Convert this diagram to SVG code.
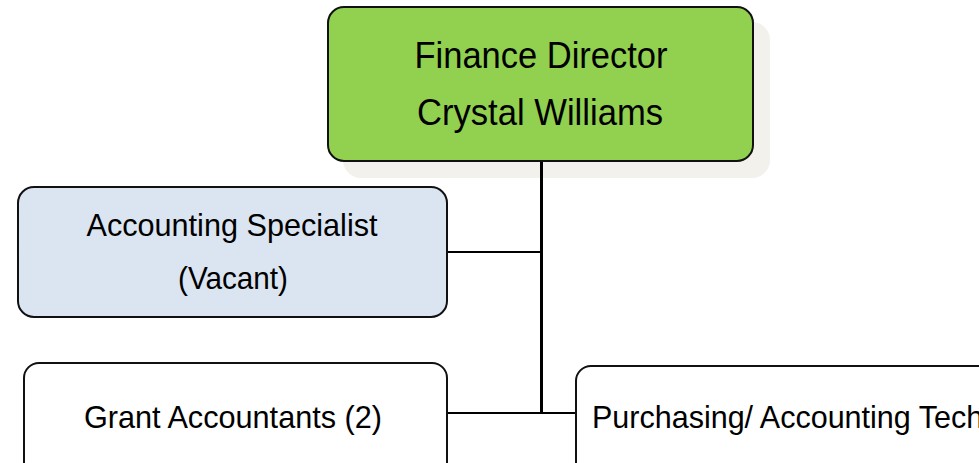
<svg xmlns="http://www.w3.org/2000/svg" width="979" height="463" viewBox="0 0 979 463">
<style>
.box{stroke:#111;stroke-width:2}
.t{font-family:"Liberation Sans",Arial,sans-serif;fill:#000;text-anchor:middle}
.big{font-size:36px}
.mid{font-size:30.5px}
.ln{stroke:#000;fill:none}
</style>
<rect width="979" height="463" fill="#fff"/>
<g id="finance-director">
<rect x="343" y="22" width="427" height="156" rx="18" fill="#f2f1ec"/>
<rect class="box" x="328" y="7" width="425" height="154" rx="16" fill="#92d050"/>
<text class="t big" x="541" y="68" textLength="253" lengthAdjust="spacingAndGlyphs">Finance Director</text>
<text class="t big" x="540" y="125" textLength="246" lengthAdjust="spacingAndGlyphs">Crystal Williams</text>
</g>
<g id="accounting-specialist">
<rect class="box" x="18" y="187" width="429" height="130" rx="16" fill="#dbe5f1"/>
<text class="t mid" x="232" y="236" textLength="291" lengthAdjust="spacingAndGlyphs">Accounting Specialist</text>
<text class="t mid" x="233" y="289" textLength="110" lengthAdjust="spacingAndGlyphs">(Vacant)</text>
</g>
<g id="grant-accountants">
<rect class="box" x="24" y="363" width="423" height="120" rx="15" fill="#fff"/>
<text class="t mid" x="233" y="428" textLength="298" lengthAdjust="spacingAndGlyphs">Grant Accountants (2)</text>
</g>
<g id="purchasing-tech">
<rect class="box" x="576" y="366" width="440" height="120" rx="15" fill="#fff"/>
<text class="t mid" x="592" y="428" style="text-anchor:start">Purchasing/ Accounting Tech</text>
</g>
<g id="connectors">
<line class="ln" x1="541.5" y1="162" x2="541.5" y2="414" stroke-width="3"/>
<line class="ln" x1="448" y1="252" x2="541" y2="252" stroke-width="2"/>
<line class="ln" x1="448" y1="413" x2="575" y2="413" stroke-width="2"/>
</g>
</svg>
